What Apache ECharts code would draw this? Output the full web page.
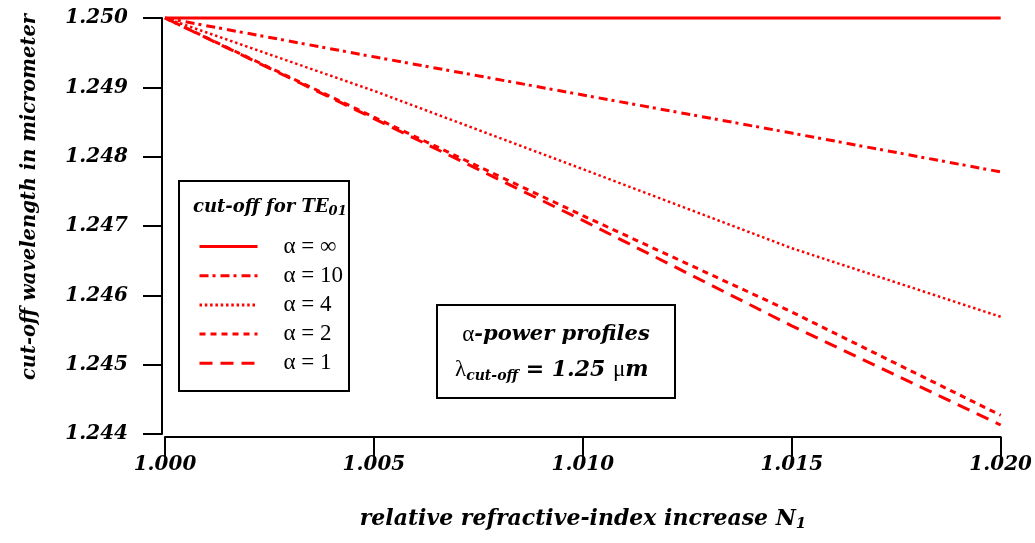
<!DOCTYPE html>
<html>
<head>
<meta charset="utf-8">
<script src="https://cdn.jsdelivr.net/npm/echarts@6/dist/echarts.min.js"></script>
<style>
html,body{margin:0;padding:0;background:#fff;}
#chart{width:1035px;height:543px;}
</style>
</head>
<body>
<div id="chart"></div>
<script>
// ---- data ----
const xValues = [1.000, 1.005, 1.010, 1.015, 1.020];
const alphaInf = [1.25000, 1.25000, 1.25000, 1.25000, 1.25000];
const alpha10  = [1.25000, 1.24944, 1.24889, 1.24834, 1.24778];
const alpha4   = [1.25000, 1.24895, 1.24782, 1.24668, 1.24569];
const alpha2   = [1.25000, 1.24857, 1.24715, 1.24576, 1.24427];
const alpha1   = [1.25000, 1.24855, 1.24708, 1.24556, 1.24413];
const seriesNames = ['α = ∞', 'α = 10', 'α = 4', 'α = 2', 'α = 1'];
const xTicks = {min: 1.000, max: 1.020, interval: 0.005};
const yTicks = {min: 1.244, max: 1.250, interval: 0.001};

const SERIF_BI = 'DejaVu Serif';
const RED = '#ff0000';

function pairs(ys){ return xValues.map((x,i)=>[x, ys[i]]); }

const styles = [
  {type:'solid', width:3},
  {type:[9,4,3,5], width:3},
  {type:[2.5,2.8], width:2.5},
  {type:[6,5], width:3},
  {type:[13,8], width:3}
];
const dataSets = [alphaInf, alpha10, alpha4, alpha2, alpha1];

const chart = echarts.init(document.getElementById('chart'), null, {renderer:'canvas'});
const labelStyle = {fontFamily: SERIF_BI, fontWeight:'bold', fontStyle:'italic', fontSize:20, color:'#000'};

chart.setOption({
  animation:false,
  backgroundColor:'#fff',
  grid:{left:165, right:34, top:18, bottom:109, containLabel:false},
  xAxis:{
    type:'value', min:xTicks.min, max:xTicks.max, interval:xTicks.interval,
    offset:3,
    axisLine:{show:true, onZero:false, lineStyle:{color:'#000', width:2}},
    axisTick:{show:true, inside:false, length:19, lineStyle:{color:'#000', width:2}},
    axisLabel:Object.assign({margin:18, formatter:v=>v.toFixed(3)}, labelStyle),
    splitLine:{show:false}
  },
  yAxis:{
    type:'value', min:yTicks.min, max:yTicks.max, interval:yTicks.interval,
    offset:3,
    axisLine:{show:true, onZero:false, lineStyle:{color:'#000', width:2}},
    axisTick:{show:true, inside:false, length:19, lineStyle:{color:'#000', width:2}},
    axisLabel:Object.assign({margin:34, formatter:v=>v.toFixed(3)}, labelStyle),
    splitLine:{show:false}
  },
  legend:{
    orient:'vertical', left:198, top:235,
    itemWidth:58, itemHeight:14, itemGap:6.2,
    padding:0,
    data:seriesNames,
    itemStyle:{opacity:0},
    lineStyle:{width:3},
    textStyle:{fontFamily:'Liberation Serif', fontSize:23, lineHeight:23, color:'#000', padding:[0,0,0,21]}
  },
  series: dataSets.map((d,i)=>({
    name: seriesNames[i], type:'line', data: pairs(d),
    symbol:'none', showSymbol:false, smooth:false, clip:false,
    lineStyle:{color:RED, type:styles[i].type, width:styles[i].width, cap:'butt'},
    itemStyle:{color:RED}
  })),
  graphic:[
    {type:'rect', shape:{x:179, y:181, width:170, height:210}, style:{fill:'none', stroke:'#000', lineWidth:2}, z:10},
    {type:'text', x:193, y:207, z:10, style:{
      text:'{b|cut-off for TE}{s|01}', verticalAlign:'middle', align:'left',
      rich:{
        b:{font:'italic bold 18px "DejaVu Serif"', fill:'#000'},
        s:{font:'italic bold 13px "DejaVu Serif"', fill:'#000', padding:[9,0,0,0]}
      }}},
    {type:'rect', shape:{x:437, y:305, width:238, height:93}, style:{fill:'none', stroke:'#000', lineWidth:2}, z:10},
    {type:'text', x:556, y:335, z:10, style:{
      text:'{a|α}{b|-power profiles}', align:'center', verticalAlign:'middle',
      rich:{
        a:{font:'23px "Liberation Serif"', fill:'#000'},
        b:{font:'italic bold 21px "DejaVu Serif"', fill:'#000'}
      }}},
    {type:'text', x:455, y:370, z:10, style:{
      text:'{a|λ}{s|cut-off}{b| = 1.25 }{a|μ}{b|m}', align:'left', verticalAlign:'middle',
      rich:{
        a:{font:'23px "Liberation Serif"', fill:'#000'},
        b:{font:'italic bold 22px "DejaVu Serif"', fill:'#000'},
        s:{font:'italic bold 14px "DejaVu Serif"', fill:'#000', padding:[12,0,0,0]}
      }}},
    {type:'text', x:583, y:519, z:10, style:{
      text:'{b|relative refractive-index increase N}{s|1}', align:'center', verticalAlign:'middle',
      rich:{
        b:{font:'italic bold 22px "DejaVu Serif"', fill:'#000'},
        s:{font:'italic bold 15px "DejaVu Serif"', fill:'#000', padding:[10,0,0,0]}
      }}},
    {type:'text', x:30, y:197, rotation:Math.PI/2, z:10, style:{
      text:'cut-off wavelength in micrometer', align:'center', verticalAlign:'middle',
      font:'italic bold 19.5px "DejaVu Serif"', fill:'#000'}}
  ]
});
</script>
</body>
</html>
